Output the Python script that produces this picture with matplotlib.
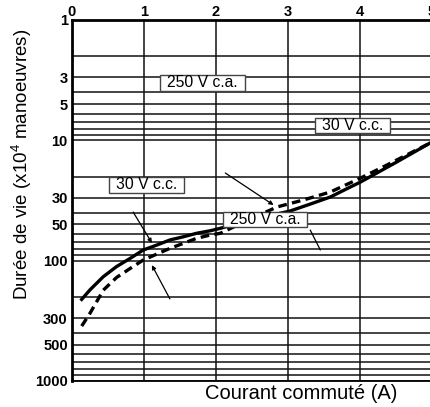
import matplotlib.pyplot as plt
from matplotlib.ticker import LogLocator, FixedLocator, NullFormatter
from matplotlib.patches import Rectangle
from matplotlib.transforms import IdentityTransform

plt.rcParams['font.family'] = ['Liberation Sans', 'DejaVu Sans']
plt.rcParams['mathtext.default'] = 'regular'

# courbe en trait plein
x_plein = [0.135, 0.25, 0.435, 0.62, 0.81, 0.99, 1.18, 1.36, 1.55, 1.73, 1.92, 2.06,
           2.48, 3.03, 3.31, 3.59, 3.80, 4.01, 4.49, 4.98]
y_plein = [210, 175, 136, 112, 95.7, 81.6, 74.2, 67.4, 63.3, 59.3, 56.5, 53.9,
           46, 38.7, 33.9, 29.6, 25.6, 22.2, 15.4, 10.5]
# courbe en pointilles
x_tirets = [0.135, 0.25, 0.435, 0.62, 0.81, 0.99, 1.18, 1.36, 1.55, 1.73, 1.92, 2.06,
            2.48, 2.85, 3.21, 3.59, 4.01, 4.38, 4.98]
y_tirets = [350, 274, 176, 138, 116, 98.9, 88.2, 79.1, 71.8, 65.3, 61.3, 59.3,
            45.1, 35.8, 31.4, 26.9, 20.6, 16.0, 10.5]

# graduations
x_ticks = [0, 1, 2, 3, 4, 5]
y_ticks = [1, 3, 5, 10, 30, 50, 100, 300, 500, 1000]

# etiquettes dans des cadres
etiquettes = ["250 V c.a.", "30 V c.c.", "30 V c.c.", "250 V c.a."]
etiq_x = [1.81, 3.90, 1.04, 2.68]
etiq_y = [3.34, 7.5, 23.5, 45.5]

# traits de rappel (x0, y0) -> (x1, y1), fleche au bout ou non
rappel_x0 = [0.85, 1.36, 2.13, 3.31]
rappel_y0 = [39.5, 208, 18.7, 55.7]
rappel_x1 = [1.11, 1.11, 2.80, 3.45]
rappel_y1 = [71.3, 109, 34.5, 81.6]
rappel_fleche = [True, True, True, False]

fig = plt.figure(figsize=(4.3, 4.07), dpi=100)
ax = fig.add_axes([0.1674, 0.064, 0.837, 0.887])

ax.set_yscale('log')
ax.set_xlim(0, 5)
ax.set_ylim(1000, 1)

# grille : toutes les valeurs entieres de chaque decade
ax.yaxis.set_major_locator(FixedLocator(y_ticks))
ax.yaxis.set_minor_locator(LogLocator(base=10, subs=range(1, 10), numticks=20))
ax.yaxis.set_minor_formatter(NullFormatter())
ax.set_yticks(y_ticks)
ax.set_yticklabels([str(v) for v in y_ticks], fontweight='bold', fontsize=10.5)
ax.xaxis.tick_top()
ax.set_xticks(x_ticks)
ax.set_xticklabels([str(v) for v in x_ticks], fontweight='bold', fontsize=10.5)
ax.tick_params(which='both', length=0)
ax.tick_params(axis='y', pad=3)
ax.tick_params(axis='x', pad=0.5)
ax.grid(which='both', axis='y', color='#111111', lw=1.1)
ax.grid(which='major', axis='x', color='#111111', lw=1.1)

for s in ['left', 'top']:
    ax.spines[s].set_linewidth(2)
ax.spines['bottom'].set_linewidth(1.3)
ax.spines['right'].set_visible(False)

# courbes
ax.plot(x_plein, y_plein, color='black', lw=2.4, zorder=3)
l, = ax.plot(x_tirets, y_tirets, color='black', lw=2.4, zorder=3)
l.set_dashes([2.6, 1.6])

# traits de rappel
for i in range(len(rappel_x0)):
    style = '-|>' if rappel_fleche[i] else '-'
    ax.annotate('', xy=(rappel_x1[i], rappel_y1[i]), xytext=(rappel_x0[i], rappel_y0[i]),
                arrowprops=dict(arrowstyle=style, color='black', lw=0.9, mutation_scale=6,
                                shrinkA=0, shrinkB=0), zorder=4)

textes = []
for i in range(len(etiquettes)):
    t = ax.text(etiq_x[i], etiq_y[i], etiquettes[i], ha='center', va='center', fontsize=11.3, zorder=5)
    textes.append(t)

# cadres blancs autour des etiquettes (plus larges que hauts)
fig.canvas.draw()
for t in textes:
    bb = t.get_window_extent()
    ax.add_patch(Rectangle((bb.x0 - 7, bb.y0 - 0.5), bb.width + 14, bb.height + 0.5,
                           transform=IdentityTransform(), fc='white', ec='#444444', lw=1, zorder=4.5))

fig.text(0.051, 0.597, 'Durée de vie (x10$^4$ manoeuvres)', rotation=90, ha='center', va='center', fontsize=13.5)
fig.text(0.477, 0.034, 'Courant commuté (A)', ha='left', va='center', fontsize=14.5)

plt.savefig('out.png', dpi=100)
